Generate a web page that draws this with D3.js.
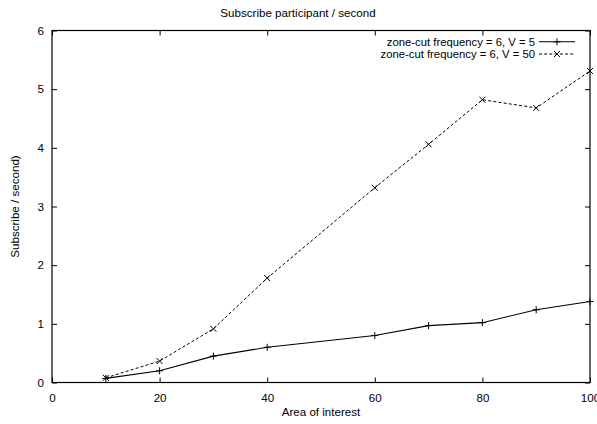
<!DOCTYPE html>
<html>
<head>
<meta charset="utf-8">
<script src="https://cdn.jsdelivr.net/npm/d3@7"></script>
<style>
  html, body { margin: 0; padding: 0; background: #fff; }
  svg { display: block; }
  text { font-family: "Liberation Sans", Arial, sans-serif; fill: #000; }
</style>
</head>
<body>
<svg id="chart" width="597" height="424"></svg>
<script>
const areaOfInterest = [10, 20, 30, 40, 60, 70, 80, 90, 100];
const seriesV5  = [0.07, 0.20, 0.45, 0.60, 0.80, 0.97, 1.02, 1.24, 1.38];
const seriesV50 = [0.08, 0.365, 0.915, 1.78, 3.32, 4.06, 4.82, 4.68, 5.31];
const seriesNames = ["zone-cut frequency = 6, V = 5", "zone-cut frequency = 6, V = 50"];
const xTicks = [0, 20, 40, 60, 80, 100];
const yTicks = [0, 1, 2, 3, 4, 5, 6];
const titleText = "Subscribe participant / second";
const xLabel = "Area of interest";
const yLabel = "Subscribe / second)";

const svg = d3.select("#chart");
const W = 597, H = 424;
const m = { left: 52, right: 7, top: 30.5, bottom: 41.5 };
const x = d3.scaleLinear().domain([0, 100]).range([m.left, W - m.right]);
const y = d3.scaleLinear().domain([0, 6]).range([H - m.bottom, m.top]);

const tickLen = 5;
const fs = 11.6;
const legendFs = 11.3;

// Frame
svg.append("rect")
  .attr("x", x(0)).attr("y", y(6))
  .attr("width", x(100) - x(0)).attr("height", y(0) - y(6))
  .attr("fill", "none").attr("stroke", "#000").attr("stroke-width", 1.2);

// Axes using d3 axes (inner ticks)
const xAxisB = d3.axisBottom(x).tickValues(xTicks).tickSize(-tickLen).tickPadding(tickLen + 6).tickFormat(d3.format("d"));
const gxb = svg.append("g").attr("transform", `translate(0,${y(0)})`).call(xAxisB);
const xAxisT = d3.axisTop(x).tickValues(xTicks).tickSize(-tickLen).tickFormat("");
const gxt = svg.append("g").attr("transform", `translate(0,${y(6)})`).call(xAxisT);
const yAxisL = d3.axisLeft(y).tickValues(yTicks).tickSize(-tickLen).tickPadding(tickLen + 3).tickFormat(d3.format("d"));
const gyl = svg.append("g").attr("transform", `translate(${x(0)},0)`).call(yAxisL);
const yAxisR = d3.axisRight(y).tickValues(yTicks).tickSize(-tickLen).tickFormat("");
const gyr = svg.append("g").attr("transform", `translate(${x(100)},0)`).call(yAxisR);

[gxb, gxt, gyl, gyr].forEach(g => {
  g.select(".domain").remove();
  g.selectAll(".tick line").attr("stroke", "#000").attr("stroke-width", 1);
  g.selectAll(".tick text").attr("font-family", "Liberation Sans, Arial, sans-serif").attr("font-size", fs).attr("fill", "#000");
});

// Title and labels
svg.append("text").attr("x", 298).attr("y", 17).attr("text-anchor", "middle").attr("font-size", fs).text(titleText);
svg.append("text").attr("x", (x(0) + x(100)) / 2).attr("y", 416).attr("text-anchor", "middle").attr("font-size", fs).text(xLabel);
svg.append("text").attr("transform", `translate(19,${(y(0) + y(6)) / 2}) rotate(-90)`)
  .attr("text-anchor", "middle").attr("font-size", fs).text(yLabel);

const data5 = areaOfInterest.map((a, i) => [a, seriesV5[i]]);
const data50 = areaOfInterest.map((a, i) => [a, seriesV50[i]]);
const line = d3.line().x(d => x(d[0])).y(d => y(d[1]));

svg.append("path").datum(data5).attr("d", line)
  .attr("fill", "none").attr("stroke", "#000").attr("stroke-width", 1.1);
svg.append("path").datum(data50).attr("d", line)
  .attr("fill", "none").attr("stroke", "#000").attr("stroke-width", 1).attr("stroke-dasharray", "3,2.2");

const ps = 3.5;
function plus(g, cx, cy) {
  g.append("path").attr("d", `M${cx - ps},${cy}H${cx + ps}M${cx},${cy - ps}V${cy + ps}`)
    .attr("stroke", "#000").attr("stroke-width", 1).attr("fill", "none");
}
function cross(g, cx, cy) {
  const s = 3;
  g.append("path").attr("d", `M${cx - s},${cy - s}L${cx + s},${cy + s}M${cx - s},${cy + s}L${cx + s},${cy - s}`)
    .attr("stroke", "#000").attr("stroke-width", 1).attr("fill", "none");
}
const gm = svg.append("g");
data5.forEach(d => plus(gm, x(d[0]), y(d[1])));
data50.forEach(d => cross(gm, x(d[0]), y(d[1])));

// Legend
const lg = svg.append("g");
const lx0 = 539, lx1 = 575, ltx = 535;
const ly = [41.8, 54];
lg.append("text").attr("x", ltx).attr("y", ly[0] + 4).attr("text-anchor", "end").attr("font-size", legendFs).text(seriesNames[0]);
lg.append("text").attr("x", ltx).attr("y", ly[1] + 4).attr("text-anchor", "end").attr("font-size", legendFs).text(seriesNames[1]);
lg.append("line").attr("x1", lx0).attr("x2", lx1).attr("y1", ly[0]).attr("y2", ly[0]).attr("stroke", "#000").attr("stroke-width", 1.1);
plus(lg, (lx0 + lx1) / 2, ly[0]);
lg.append("line").attr("x1", lx0).attr("x2", lx1).attr("y1", ly[1]).attr("y2", ly[1]).attr("stroke", "#000").attr("stroke-width", 1).attr("stroke-dasharray", "3,2.2");
cross(lg, (lx0 + lx1) / 2, ly[1]);
</script>
</body>
</html>
